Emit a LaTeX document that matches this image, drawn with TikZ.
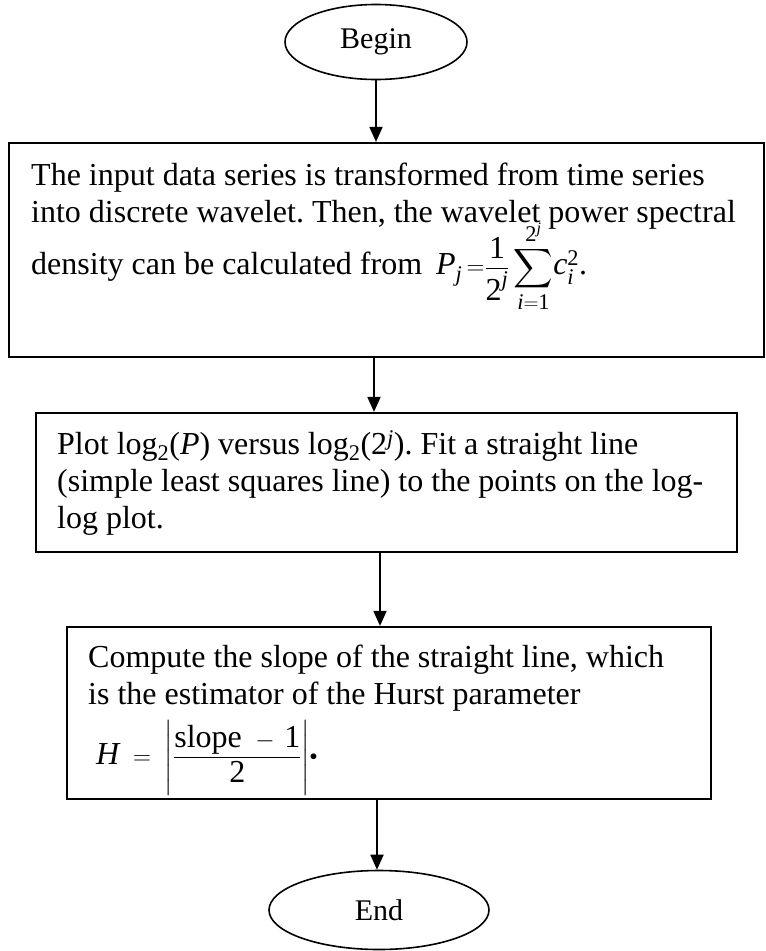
\documentclass[tikz,border=0pt]{standalone}
\usepackage{amsmath}
\usepackage{fontspec}
\setmainfont{Liberation Serif}
\usetikzlibrary{shapes, arrows.meta, positioning}
% letters and digits of the formulas in the text font
\newcommand{\mi}[1]{\textit{#1}}
\newcommand{\mn}[1]{\textup{#1}}
\newcommand{\bigsum}{\mathop{\vcenter{\hbox{\scalebox{1.1}{$\displaystyle\sum$}}}}\limits}
\newcommand{\middot}{\raisebox{0.1em}{\scalebox{0.6}{$\bullet$}}}
\frenchspacing

\begin{document}
\begin{tikzpicture}[x=1pt, y=-1pt,
        terminal/.style={draw, ellipse, line width=1.6pt, inner sep=0pt, font=\fontsize{30}{36}\selectfont},
        stepbox/.style={draw, rectangle, line width=2.2pt, inner sep=0pt},
        steptext/.style={anchor=north west, inner sep=0pt, align=left, font=\fontsize{32}{37}\selectfont},
        arrow/.style={-{Triangle[length=15pt, width=13pt]}, line width=1.8pt}
    ]
        \useasboundingbox (0,0) rectangle (766,951);
        \node[terminal, minimum width=182pt, minimum height=75pt] (Begin) at (376, 42) {Begin};
        \node[stepbox, minimum width=755pt, minimum height=214pt] (DWT) at (386.5, 250) {};
        \node[stepbox, minimum width=701pt, minimum height=139pt] (Plot) at (386.5, 482.5) {};
        \node[stepbox, minimum width=644pt, minimum height=172pt] (Slope) at (389, 713) {};
        \node[terminal, minimum width=220pt, minimum height=79pt] (End) at (379, 910) {End};
        % texts in the boxes
        \node[steptext] (DWTtext) at (31, 163) {The input data series is transformed from time series\\
            into discrete wavelet. Then, the wavelet power spectral\\[-10pt]
            density can be calculated from\hspace{14pt}$\mi{P}_{\mi{j}}\,{=}\dfrac{\mn{1}}{\mn{2}^{\mi{j}}}\bigsum_{\mi{i}=\mn{1}}^{\mn{2}^{\mi{j}}}\!\mi{c}_{\mi{i}}^{\mn{2}}$.};
        \node[steptext] (Plottext) at (57, 430) {Plot log\textsubscript{2}(\textit{P}) versus log\textsubscript{2}(2\textsuperscript{\textit{j}}). Fit a straight line\\
            (simple least squares line) to the points on the log-\\
            log plot.};
        \node[steptext] (Slopetext) at (88, 645) {Compute the slope of the straight line, which\\
            is the estimator of the Hurst parameter\\[8pt]
            \ $\mi{H} \;=\; \left|\dfrac{\text{slope}\ -\,\mn{1}}{\mn{2}}\right|$\middot};
        % flow
        \draw[arrow] (Begin) -- (Begin |- DWT.north);
        \draw[arrow] ([xshift=-12.5pt]DWT.south) -- ([xshift=-12.5pt]Plot.north);
        \draw[arrow] ([xshift=-6.5pt]Plot.south) -- ([xshift=-9pt]Slope.north);
        \draw[arrow] ([xshift=-12pt]Slope.south) -- ([xshift=-2pt]End.north);
    \end{tikzpicture}
\end{document}
